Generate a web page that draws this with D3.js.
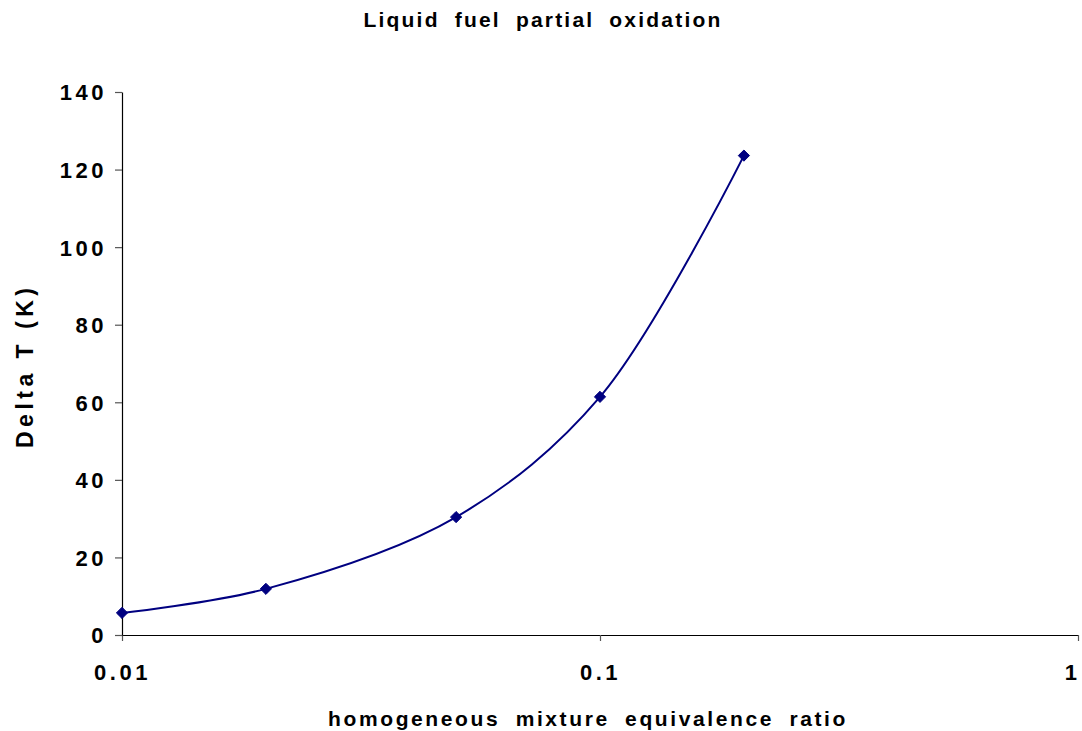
<!DOCTYPE html>
<html>
<head>
<meta charset="utf-8">
<script src="https://cdnjs.cloudflare.com/ajax/libs/d3/7.8.5/d3.min.js"></script>
<style>
  body { margin: 0; background: #fff; }
  text { font-family: "Liberation Sans", Arial, sans-serif; font-weight: bold; fill: #000; }
</style>
</head>
<body>
<div id="chart"></div>
<script>
// values
const ratio = [0.01, 0.02, 0.05, 0.1, 0.2];
const deltaT = [5.7, 11.9, 30.4, 61.4, 123.6];
const yTicks = [0, 20, 40, 60, 80, 100, 120, 140];
const xTicks = [0.01, 0.1, 1];

const width = 1082, height = 731;
const margin = {top: 92, right: 4, bottom: 96, left: 122};

const svg = d3.select('#chart').append('svg')
  .attr('width', width)
  .attr('height', height);

const x = d3.scaleLog().domain([0.01, 1]).range([margin.left, width - margin.right]);
const y = d3.scaleLinear().domain([0, 140]).range([height - margin.bottom, margin.top]);

// axes
const xAxis = svg.append('g')
  .attr('transform', `translate(0,${y(0)})`)
  .call(d3.axisBottom(x).tickValues(xTicks).tickSize(6).tickSizeOuter(0).tickFormat(d => d));
xAxis.selectAll('text')
  .attr('dy', null).attr('y', 45)
  .style('font-size', '22px').style('letter-spacing', '3.5px');
// last label sits at the right edge, keep it inside
xAxis.selectAll('.tick').filter(d => d === 1).select('text')
  .attr('text-anchor', 'end').attr('x', 2);

const yAxis = svg.append('g')
  .attr('transform', `translate(${x(0.01)},0)`)
  .call(d3.axisLeft(y).tickValues(yTicks).tickSize(7).tickSizeOuter(0));
yAxis.selectAll('text')
  .attr('x', -15).attr('dy', '0.36em')
  .style('font-size', '22px').style('letter-spacing', '3.5px');

svg.selectAll('.domain, .tick line').attr('stroke', '#000').attr('stroke-width', 1.2);
svg.selectAll('.tick line').attr('stroke', '#555');

// curve
const pts = ratio.map((r, i) => [x(r), y(deltaT[i])]);
svg.append('path')
  .attr('d', d3.line().curve(d3.curveCatmullRom.alpha(0.5))(pts))
  .attr('fill', 'none')
  .attr('stroke', '#000080')
  .attr('stroke-width', 2);

svg.selectAll('.pt')
  .data(pts)
  .enter()
  .append('path')
  .attr('class', 'pt')
  .attr('d', d3.symbol().type(d3.symbolDiamond2).size(80))
  .attr('transform', d => `translate(${d[0]},${d[1]})`)
  .attr('fill', '#000080')
  .attr('stroke', '#000080')
  .attr('stroke-width', 1);

// titles
svg.append('text')
  .attr('x', 543).attr('y', 27)
  .attr('text-anchor', 'middle')
  .style('font-size', '21px').style('letter-spacing', '2.2px').style('word-spacing', '7px')
  .text('Liquid fuel partial oxidation');

svg.append('text')
  .attr('x', 588).attr('y', 726)
  .attr('text-anchor', 'middle')
  .style('font-size', '21px').style('letter-spacing', '2.6px').style('word-spacing', '7px')
  .text('homogeneous mixture equivalence ratio');

svg.append('text')
  .attr('transform', 'translate(33,368) rotate(-90)')
  .attr('text-anchor', 'middle')
  .attr('textLength', 160)
  .attr('lengthAdjust', 'spacing')
  .style('font-size', '23px')
  .text('Delta T (K)');
</script>
</body>
</html>
